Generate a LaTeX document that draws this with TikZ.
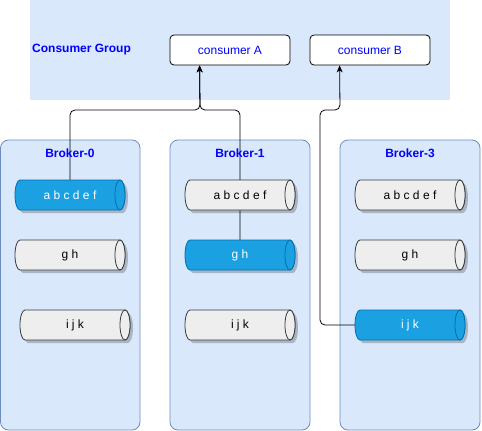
\documentclass[tikz,border=0pt]{standalone}
\usepackage{fontspec}
\setmainfont{Liberation Sans}
\usetikzlibrary{arrows.meta,calc}
\pgfdeclarelayer{bg}
\pgfdeclarelayer{conn}
\pgfsetlayers{bg,conn,main}
\definecolor{groupfill}{HTML}{DAE8FC}
\definecolor{groupline}{HTML}{6C8EBF}
\definecolor{bluefill}{HTML}{1BA1E2}
\definecolor{blueline}{HTML}{006EAF}
\definecolor{greyfill}{HTML}{EEEEEE}
\definecolor{greyline}{HTML}{36393D}
\definecolor{txtblue}{HTML}{0000FF}
\tikzset{
  brokerbox/.style={draw=groupline, fill=groupfill, rounded corners=8pt, line width=0.8pt},
  consbox/.style={draw=black, fill=white, rounded corners=4pt, minimum width=120pt, minimum height=30pt, inner sep=0pt, text=txtblue, font=\fontsize{12}{14}\selectfont, line width=0.8pt},
  titletxt/.style={text=txtblue, font=\fontsize{12}{14}\selectfont\bfseries, inner sep=0pt},
  cyltext/.style={minimum width=110pt, minimum height=30pt, inner sep=0pt, font=\fontsize{12}{14}\selectfont},
  bluecyl/.style={fill=bluefill, draw=blueline, line width=0.8pt},
  greycyl/.style={fill=greyfill, draw=greyline, line width=0.8pt},
  conn/.style={draw=black, line width=0.8pt, rounded corners=5pt},
  tip/.style={-{Stealth[length=7pt,width=6pt,inset=2pt]}}
}
% #1 name, #2 cx, #3 cy, #4 style, #5 text colour, #6 text
\newcommand\mycyl[6]{%
  \fill[black, opacity=0.22] ($(#2-50+3,#3-15+3)$) -- ++(100,0) arc[start angle=90, end angle=-90, x radius=5pt, y radius=15pt] -- ++(-100,0) arc[start angle=270, end angle=90, x radius=5pt, y radius=15pt] -- cycle;
  \path[#4] ($(#2-50,#3-15)$) -- ++(100,0) arc[start angle=90, end angle=-90, x radius=5pt, y radius=15pt] -- ++(-100,0) arc[start angle=270, end angle=90, x radius=5pt, y radius=15pt] -- cycle;
  \path[#4] ($(#2+50,#3)$) ellipse[x radius=5pt, y radius=15pt];
  \node[cyltext, text=#5] (#1) at (#2,#3) {#6};
}
\begin{document}
\begin{tikzpicture}[x=1pt, y=-1pt]
\useasboundingbox (0,0) rectangle (482,431);
\begin{pgfonlayer}{bg}
  \fill[groupfill] (30,0) rectangle (450,100);
  \path[brokerbox] (0.5,140) rectangle (140,430);
  \path[brokerbox] (170,140) rectangle (310,430);
  \path[brokerbox] (340,140) rectangle (480,430);
\end{pgfonlayer}
\node[titletxt, anchor=west] (grp) at (32,50) {Consumer Group};
\node[consbox] (cA) at (230,50) {consumer A};
\node[consbox] (cB) at (370,50) {consumer B};
\node[titletxt] (t0) at (70,153) {Broker-0};
\node[titletxt] (t1) at (240,153) {Broker-1};
\node[titletxt] (t3) at (410,153) {Broker-3};
\mycyl{b0a}{70}{195}{bluecyl}{white}{a b c d e f}
\mycyl{b0b}{70}{255}{greycyl}{black}{g h}
\mycyl{b0c}{75}{325}{greycyl}{black}{i j k}
\mycyl{b1a}{240}{195}{greycyl}{black}{a b c d e f}
\mycyl{b1b}{240}{255}{bluecyl}{white}{g h}
\mycyl{b1c}{240}{325}{greycyl}{black}{i j k}
\mycyl{b3a}{410}{195}{greycyl}{black}{a b c d e f}
\mycyl{b3b}{410}{255}{greycyl}{black}{g h}
\mycyl{b3c}{410}{325}{bluecyl}{white}{i j k}
\coordinate (inA) at ($(cA.south west)+(30,0)$);
\coordinate (inB) at ($(cB.south west)+(30,0)$);
\begin{pgfonlayer}{conn}
  \draw[conn, tip] (b0a.north) -- (70,110) -- (200,110) -- (inA);
  \draw[conn, tip] (b1b.north) -- (240,110) -- (200,110) -- (inA);
  \draw[conn, tip] (b3c.west) -- (320,325) -- (320,110) -- (340,110) -- (inB);
\end{pgfonlayer}
\end{tikzpicture}
\end{document}
